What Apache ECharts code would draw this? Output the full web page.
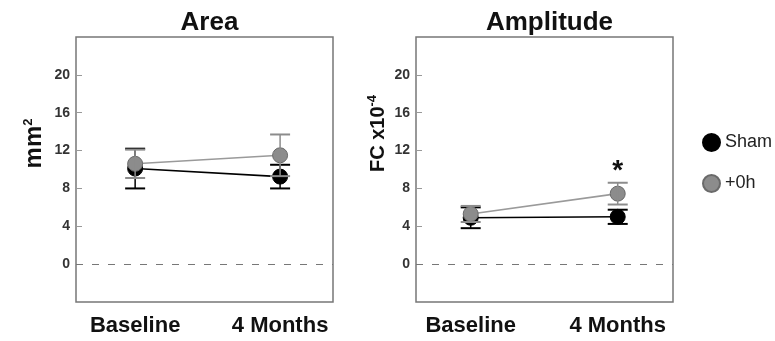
<!DOCTYPE html>
<html><head><meta charset="utf-8">
<script src="https://cdn.jsdelivr.net/npm/echarts@6/dist/echarts.min.js"></script>
<style>html,body{margin:0;padding:0;background:#fff}#c{width:775px;height:341px}</style>
</head><body><div id="c"></div>
<script>
const categories = ['Baseline', '4 Months'];
const panelTitles = ['Area', 'Amplitude'];
const seriesNames = ['Sham', '+0h'];
const yTicks = [0, 4, 8, 12, 16, 20];
// Area (mm^2)
const areaSham = [10.1, 9.25];
const areaShamErr = [2.1, 1.25];
const areaOh = [10.6, 11.5];
const areaOhErr = [1.5, 2.2];
// Amplitude (FC x10^-4)
const ampSham = [4.9, 5.0];
const ampShamErr = [1.1, 0.75];
const ampOh = [5.3, 7.45];
const ampOhErr = [0.85, 1.15];
const ampOhMarks = ['', '*'];

const BLACK = '#000000', GREY = '#8c8c8c', GREYLINE = '#9a9a9a';
const chart = echarts.init(document.getElementById('c'), null, {renderer: 'canvas'});

function pts(vals) { return vals.map((v, i) => [i, v]); }
function errData(vals, errs, marks) { return vals.map((v, i) => [i, v - errs[i], v + errs[i], marks ? marks[i] : '']); }
function errSeries(idx, vals, errs, color, name, z, marks) {
  return {
    type: 'custom', name: name, xAxisIndex: idx, yAxisIndex: idx, z: z, silent: true,
    data: errData(vals, errs, marks),
    encode: {x: 0, y: [1, 2]},
    renderItem: function (params, api) {
      const x = api.value(0);
      const lo = api.coord([x, api.value(1)]);
      const hi = api.coord([x, api.value(2)]);
      const w = 10;
      const st = {stroke: color, lineWidth: 2};
      const ch = [
        {type: 'line', shape: {x1: lo[0], y1: lo[1], x2: hi[0], y2: hi[1]}, style: {stroke: color, lineWidth: 1.5}},
        {type: 'line', shape: {x1: lo[0] - w, y1: lo[1], x2: lo[0] + w, y2: lo[1]}, style: st},
        {type: 'line', shape: {x1: hi[0] - w, y1: hi[1], x2: hi[0] + w, y2: hi[1]}, style: st}
      ];
      const m = api.value(3);
      if (m) {
        ch.push({type: 'text', style: {text: m, x: hi[0], y: hi[1] + 3, align: 'center', verticalAlign: 'bottom',
          font: 'bold 28px "Liberation Sans", Arial, sans-serif', fill: '#111'}});
      }
      return {type: 'group', children: ch};
    }
  };
}
function lineSeries(idx, vals, color, lineColor, name, z, border) {
  return {
    type: 'line', name: name, xAxisIndex: idx, yAxisIndex: idx, z: z,
    data: pts(vals), symbol: 'circle', symbolSize: 15,
    itemStyle: {color: color, borderColor: border, borderWidth: 1},
    lineStyle: {color: lineColor, width: 1.6}, emphasis: {disabled: true}
  };
}

const FONT = '"Liberation Sans", Arial, sans-serif';
const grids = [{left: 76, top: 37, width: 257, height: 265}, {left: 416, top: 37, width: 257, height: 265}];
const xRanges = [[-0.408, 1.365], [-0.372, 1.376]];
const yNames = ['{a|mm}{b|2}', '{a|FC x10}{b|-4}'];
const yNameFont = [24, 20];
const yNameGap = [30, 26];
const yNameShift = [52, 72];

const option = {
  animation: false,
  backgroundColor: '#fff',
  title: panelTitles.map((t, i) => ({
    text: t, left: grids[i].left + grids[i].width / 2, top: 5, textAlign: 'center',
    textStyle: {fontFamily: FONT, fontWeight: 'bold', fontSize: 26, color: '#111'}
  })),
  legend: {
    data: seriesNames, orient: 'vertical', left: 697, top: 128, itemGap: 22,
    icon: 'circle', itemWidth: 17, itemHeight: 17,
    textStyle: {fontFamily: FONT, fontSize: 18, color: '#222'}
  },
  grid: grids.map(g => Object.assign({show: true, borderColor: '#777', borderWidth: 1.5, backgroundColor: '#fff'}, g)),
  xAxis: xRanges.map((r, i) => ({
    type: 'value', gridIndex: i, min: r[0], max: r[1],
    axisLine: {show: false, onZero: false}, axisTick: {show: false}, splitLine: {show: false},
    axisLabel: {customValues: [0, 1], formatter: v => categories[Math.round(v)], margin: 13,
      fontFamily: FONT, fontWeight: 'bold', fontSize: 22, color: '#111'}
  })),
  yAxis: yNames.map((n, i) => ({
    type: 'value', gridIndex: i, min: -4, max: 24, interval: 4,
    name: n, nameLocation: 'middle', nameRotate: 90, nameGap: yNameGap[i],
    nameTextStyle: {padding: [0, 0, 0, yNameShift[i]], rich: {
      a: {fontFamily: FONT, fontWeight: 'bold', fontSize: yNameFont[i], color: '#111'},
      b: {fontFamily: FONT, fontWeight: 'bold', fontSize: 13, color: '#111', padding: [0, 0, 11, 0]}
    }},
    axisLine: {show: false, onZero: false}, splitLine: {show: false},
    axisTick: {show: true, inside: true, length: 6, lineStyle: {color: '#999', width: 1}, customValues: yTicks},
    axisLabel: {customValues: yTicks, margin: 6, fontFamily: FONT, fontWeight: 'bold', fontSize: 14, color: '#333'}
  })),
  series: [
    Object.assign(lineSeries(0, areaSham, BLACK, BLACK, seriesNames[0], 2, '#000'), {
      markLine: {silent: true, symbol: 'none', label: {show: false},
        lineStyle: {color: '#777', type: [7, 9], width: 1.2}, data: [{yAxis: 0}]}
    }),
    errSeries(0, areaSham, areaShamErr, BLACK, seriesNames[0], 3),
    lineSeries(0, areaOh, GREY, GREYLINE, seriesNames[1], 4, '#6a6a6a'),
    errSeries(0, areaOh, areaOhErr, GREY, seriesNames[1], 5),
    Object.assign(lineSeries(1, ampSham, BLACK, BLACK, seriesNames[0], 2, '#000'), {
      markLine: {silent: true, symbol: 'none', label: {show: false},
        lineStyle: {color: '#777', type: [7, 9], width: 1.2}, data: [{yAxis: 0}]}
    }),
    errSeries(1, ampSham, ampShamErr, BLACK, seriesNames[0], 3),
    lineSeries(1, ampOh, GREY, GREYLINE, seriesNames[1], 4, '#6a6a6a'),
    errSeries(1, ampOh, ampOhErr, GREY, seriesNames[1], 5, ampOhMarks)
  ]
};
chart.setOption(option);
</script></body></html>
